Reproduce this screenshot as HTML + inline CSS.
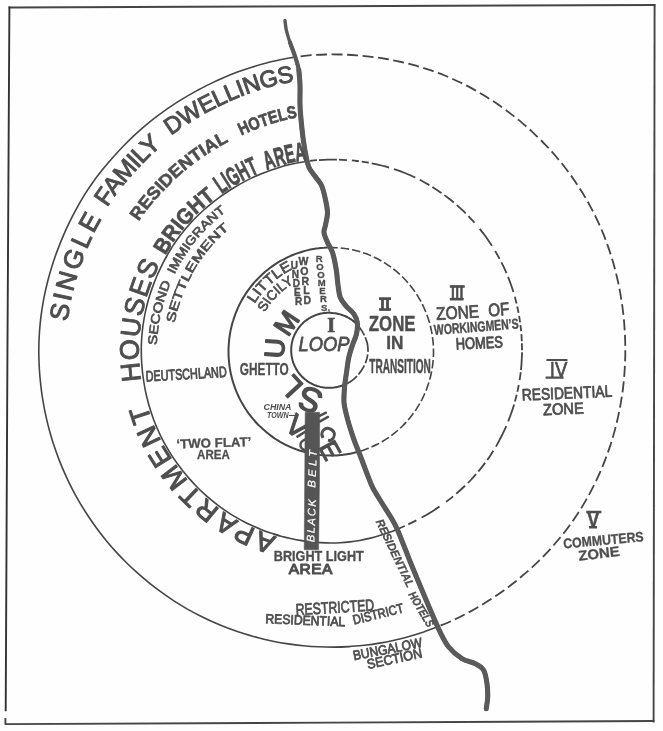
<!DOCTYPE html>
<html lang="en"><head><meta charset="utf-8"><title>Concentric zone model of urban areas</title>
<style>
html,body{margin:0;padding:0;background:#fefefe;}
svg{display:block;font-family:"Liberation Sans",sans-serif;filter:opacity(0.999);}
</style></head>
<body>
<svg width="663" height="731" viewBox="0 0 663 731">
<rect width="663" height="731" fill="#fefefe"/>
<defs>
<path id="p1" d="M65.8 350.1C65.8 348.6 65.9 344.0 66.0 340.9C66.1 337.8 66.3 334.7 66.5 331.7C66.8 328.6 67.1 325.5 67.4 322.5C67.8 319.4 68.2 316.4 68.6 313.3C69.1 310.3 69.6 307.2 70.2 304.2C70.8 301.2 71.4 298.2 72.1 295.2C72.8 292.2 73.5 289.2 74.3 286.3C75.1 283.3 75.9 280.3 76.8 277.4C77.7 274.5 78.6 271.5 79.6 268.6C80.5 265.7 81.6 262.8 82.6 260.0C83.7 257.1 84.8 254.3 86.0 251.4C87.1 248.6 88.3 245.8 89.6 243.0C90.8 240.2 92.1 237.4 93.4 234.7C94.8 231.9 96.1 229.2 97.5 226.5C99.0 223.8 100.4 221.1 101.9 218.5C103.4 215.8 104.9 213.2 106.5 210.6C108.1 208.0 109.8 205.4 111.5 202.9C113.2 200.4 115.8 196.7 116.7 195.4"/>
<path id="p2" d="M93.6 232.1C94.3 230.8 96.4 226.6 97.8 223.8C99.3 221.1 100.8 218.3 102.3 215.6C103.9 213.0 105.5 210.3 107.1 207.7C108.8 205.0 110.5 202.4 112.3 199.9C114.1 197.3 115.9 194.8 117.8 192.4C119.6 189.9 121.6 187.5 123.5 185.1C125.5 182.7 127.5 180.3 129.5 178.0C131.5 175.6 133.6 173.3 135.7 171.0C137.8 168.8 139.9 166.5 142.0 164.3C144.2 162.1 146.3 159.9 148.5 157.7C150.7 155.6 153.0 153.4 155.3 151.4C157.5 149.3 159.9 147.3 162.2 145.3C164.6 143.3 167.0 141.4 169.4 139.5C171.8 137.6 174.3 135.7 176.8 133.9C179.3 132.1 183.1 129.5 184.3 128.6"/>
<path id="p3" d="M149.7 153.8C150.8 152.8 154.2 149.6 156.5 147.6C158.8 145.6 161.1 143.6 163.5 141.7C165.8 139.7 168.2 137.8 170.6 136.0C173.1 134.1 175.5 132.3 178.0 130.6C180.5 128.8 183.0 127.1 185.6 125.4C188.1 123.7 190.7 122.1 193.3 120.5C195.8 118.9 198.5 117.3 201.1 115.8C203.7 114.3 206.4 112.8 209.1 111.3C211.8 109.9 214.5 108.5 217.2 107.1C219.9 105.8 222.6 104.5 225.4 103.2C228.2 101.9 230.9 100.6 233.7 99.5C236.5 98.3 239.4 97.1 242.2 96.0C245.0 94.9 247.9 93.8 250.8 92.8C253.6 91.8 256.5 90.8 259.4 89.9C262.3 89.0 265.3 88.1 268.2 87.3C271.2 86.5 274.1 85.7 277.1 85.0C280.1 84.3 283.0 83.6 286.0 83.0C289.0 82.4 292.0 81.9 295.1 81.4C298.1 80.9 301.1 80.5 304.1 80.1C307.2 79.7 310.2 79.4 313.3 79.2C316.3 78.9 320.9 78.7 322.4 78.6"/>
<path id="p4" d="M126.3 242.7C126.9 241.6 128.7 238.1 130.0 235.8C131.3 233.5 132.6 231.3 133.9 229.0C135.2 226.8 136.6 224.6 138.1 222.4C139.5 220.3 141.0 218.1 142.5 216.0C144.1 213.9 145.7 211.8 147.3 209.8C148.9 207.8 150.5 205.7 152.2 203.8C153.8 201.8 155.5 199.8 157.2 197.9C159.0 195.9 160.7 194.0 162.5 192.1C164.2 190.2 166.0 188.4 167.8 186.5C169.6 184.7 171.4 182.8 173.3 181.0C175.2 179.3 177.0 177.5 179.0 175.8C180.9 174.1 182.8 172.4 184.8 170.7C186.8 169.1 188.8 167.5 190.8 165.9C192.9 164.3 194.9 162.7 197.0 161.2C199.1 159.7 201.2 158.2 203.3 156.8C205.5 155.4 207.6 154.0 209.8 152.6C212.0 151.2 214.2 149.9 216.4 148.6C218.6 147.2 220.8 146.0 223.1 144.7C225.3 143.5 227.6 142.3 229.8 141.1C232.1 139.9 234.4 138.7 236.7 137.6C239.0 136.5 241.4 135.4 243.7 134.4C246.1 133.3 249.6 131.8 250.8 131.3"/>
<path id="p5" d="M219.7 146.6C220.9 146.0 224.2 144.1 226.5 142.9C228.7 141.7 231.0 140.5 233.3 139.3C235.6 138.2 237.9 137.1 240.2 136.0C242.5 134.9 244.8 133.9 247.2 132.8C249.5 131.8 251.9 130.8 254.3 129.9C256.7 129.0 259.1 128.1 261.5 127.2C263.9 126.3 266.3 125.5 268.8 124.7C271.2 123.9 273.7 123.1 276.1 122.4C278.6 121.7 281.1 121.1 283.6 120.4C286.1 119.8 288.6 119.2 291.1 118.7C293.6 118.2 296.1 117.7 298.7 117.3C301.2 116.8 303.7 116.4 306.3 116.1C308.8 115.8 311.4 115.5 314.0 115.2C316.5 115.0 320.4 114.8 321.7 114.7"/>
<path id="p6" d="M156.3 273.5C156.8 272.5 158.1 269.5 159.1 267.5C160.0 265.5 161.0 263.6 162.0 261.7C163.0 259.7 164.0 257.8 165.1 255.9C166.2 254.0 167.2 252.1 168.4 250.2C169.5 248.4 170.7 246.5 171.9 244.7C173.1 242.9 174.3 241.1 175.6 239.3C176.8 237.5 178.1 235.8 179.4 234.0C180.8 232.3 182.1 230.6 183.5 228.9C184.9 227.3 186.3 225.6 187.8 224.0C189.2 222.4 190.7 220.8 192.2 219.2C193.7 217.6 195.2 216.1 196.8 214.6C198.3 213.0 199.9 211.5 201.5 210.1C203.1 208.6 204.7 207.2 206.4 205.8C208.0 204.4 209.7 203.0 211.4 201.6C213.1 200.3 214.8 198.9 216.5 197.6C218.2 196.3 220.0 195.1 221.8 193.8C223.5 192.6 225.3 191.4 227.1 190.2C228.9 189.0 231.7 187.3 232.6 186.7"/>
<path id="p7" d="M205.7 206.3C206.6 205.6 209.0 203.5 210.7 202.2C212.3 200.8 214.0 199.5 215.7 198.2C217.5 196.9 219.2 195.7 220.9 194.4C222.7 193.2 224.4 192.0 226.2 190.8C228.0 189.6 229.8 188.4 231.6 187.3C233.5 186.2 235.3 185.1 237.1 184.0C239.0 182.9 240.9 181.9 242.7 180.9C244.6 179.9 246.5 178.9 248.5 177.9C250.4 177.0 252.3 176.1 254.2 175.2C256.2 174.3 258.2 173.4 260.1 172.6C262.1 171.8 264.1 171.0 266.1 170.2C268.1 169.5 270.1 168.8 272.1 168.1C274.2 167.4 277.2 166.4 278.2 166.1"/>
<path id="p8" d="M248.6 177.9C249.6 177.4 252.4 176.0 254.2 175.2C256.1 174.3 258.0 173.5 260.0 172.7C261.9 171.9 263.8 171.1 265.8 170.4C267.7 169.6 269.7 168.9 271.6 168.3C273.6 167.6 275.6 166.9 277.6 166.3C279.5 165.7 281.5 165.1 283.6 164.6C285.6 164.0 287.6 163.5 289.6 163.0C291.6 162.6 293.7 162.1 295.7 161.7C297.7 161.3 299.8 160.9 301.8 160.6C303.9 160.2 305.9 159.9 308.0 159.6C310.1 159.4 312.1 159.1 314.2 158.9C316.3 158.7 318.4 158.6 320.4 158.4C322.5 158.3 325.6 158.2 326.7 158.1"/>
<path id="p9" d="M145.4 401.0C145.1 399.9 144.3 396.7 143.8 394.5C143.3 392.3 142.9 390.1 142.5 387.9C142.1 385.7 141.7 383.5 141.4 381.3C141.0 379.0 140.7 376.8 140.5 374.6C140.2 372.4 140.0 370.1 139.8 367.9C139.6 365.7 139.4 363.4 139.3 361.2C139.2 358.9 139.1 356.7 139.0 354.5C139.0 352.2 139.0 350.0 139.0 347.7C139.0 345.5 139.1 343.3 139.2 341.0C139.3 338.8 139.5 336.5 139.7 334.3C139.9 332.1 140.1 329.8 140.4 327.6C140.7 325.4 141.0 323.2 141.3 321.0C141.7 318.8 142.1 316.6 142.5 314.4C143.0 312.2 143.4 310.0 144.0 307.8C144.5 305.6 145.0 303.5 145.6 301.3C146.2 299.1 146.8 297.0 147.5 294.9C148.1 292.7 148.8 290.6 149.6 288.5C150.3 286.4 151.1 284.3 151.9 282.2C152.7 280.1 153.5 278.0 154.4 276.0C155.2 273.9 156.1 271.9 157.1 269.9C158.0 267.8 159.0 265.8 160.0 263.8C161.0 261.8 162.0 259.9 163.1 257.9C164.1 256.0 165.2 254.0 166.3 252.1C167.5 250.2 169.2 247.3 169.8 246.4"/>
<path id="p10" d="M296.4 541.5C295.3 541.3 292.0 540.7 289.9 540.2C287.7 539.7 285.5 539.2 283.4 538.6C281.2 538.1 279.1 537.5 276.9 536.9C274.8 536.2 272.7 535.6 270.6 534.9C268.5 534.2 266.4 533.4 264.3 532.6C262.2 531.9 260.1 531.1 258.1 530.2C256.0 529.3 254.0 528.5 251.9 527.5C249.9 526.6 247.9 525.7 245.9 524.7C243.9 523.7 241.9 522.6 240.0 521.6C238.0 520.5 236.1 519.4 234.1 518.3C232.2 517.2 230.3 516.0 228.5 514.8C226.6 513.6 224.7 512.4 222.9 511.1C221.0 509.8 219.2 508.5 217.5 507.2C215.7 505.9 213.9 504.5 212.2 503.1C210.4 501.7 208.7 500.3 207.0 498.8C205.3 497.4 203.7 495.9 202.0 494.4C200.4 492.8 198.8 491.3 197.2 489.7C195.6 488.2 194.1 486.6 192.5 484.9C191.0 483.3 189.5 481.7 188.0 480.0C186.6 478.3 185.1 476.6 183.7 474.9C182.3 473.2 180.9 471.4 179.6 469.6C178.2 467.9 176.9 466.1 175.6 464.3C174.3 462.4 173.0 460.6 171.8 458.8C170.6 456.9 169.4 455.0 168.2 453.1C167.0 451.2 165.9 449.3 164.8 447.4C163.6 445.4 162.6 443.5 161.5 441.5C160.5 439.5 159.5 437.5 158.5 435.5C157.6 433.5 156.6 431.5 155.7 429.5C154.8 427.4 154.0 425.4 153.2 423.3C152.3 421.2 151.6 419.1 150.8 417.0C150.1 414.9 149.4 412.8 148.7 410.7C148.0 408.5 147.4 406.4 146.8 404.3C146.2 402.1 145.6 399.9 145.1 397.8C144.6 395.6 144.1 393.4 143.7 391.3C143.2 389.1 142.6 385.8 142.4 384.7"/>
<path id="p11" d="M157.3 363.5C157.2 362.5 157.0 359.6 156.9 357.6C156.9 355.6 156.8 353.6 156.8 351.6C156.8 349.6 156.8 347.6 156.9 345.6C156.9 343.6 157.0 341.6 157.1 339.6C157.3 337.7 157.4 335.7 157.6 333.7C157.8 331.7 158.1 329.7 158.3 327.8C158.6 325.8 158.9 323.8 159.2 321.8C159.6 319.9 160.0 317.9 160.4 316.0C160.8 314.0 161.2 312.1 161.7 310.2C162.2 308.2 162.7 306.3 163.2 304.4C163.8 302.5 164.3 300.6 164.9 298.7C165.5 296.8 166.2 294.9 166.8 293.0C167.5 291.2 168.2 289.3 168.9 287.5C169.6 285.6 170.4 283.8 171.2 282.0C172.0 280.1 172.8 278.3 173.6 276.5C174.4 274.8 175.3 273.0 176.2 271.2C177.1 269.4 178.5 266.8 179.0 265.9"/>
<path id="p12" d="M167.4 291.6C167.7 290.7 168.8 287.9 169.5 286.0C170.2 284.2 171.0 282.3 171.8 280.5C172.6 278.7 173.4 276.9 174.3 275.1C175.1 273.3 176.0 271.5 176.9 269.8C177.8 268.0 178.8 266.3 179.7 264.5C180.7 262.8 181.7 261.1 182.7 259.4C183.7 257.7 184.8 256.0 185.9 254.3C187.0 252.7 188.1 251.0 189.2 249.4C190.4 247.8 191.5 246.2 192.7 244.6C193.9 243.1 195.2 241.5 196.4 240.0C197.7 238.5 199.0 237.0 200.3 235.5C201.6 234.0 202.9 232.5 204.3 231.1C205.7 229.7 207.0 228.3 208.5 226.9C209.9 225.5 211.3 224.2 212.7 222.8C214.2 221.5 215.7 220.2 217.2 218.9C218.7 217.6 220.2 216.4 221.7 215.1C223.3 213.9 224.8 212.7 226.4 211.5C228.0 210.3 229.5 209.2 231.1 208.0C232.8 206.9 234.4 205.8 236.0 204.7C237.7 203.6 240.2 202.1 241.0 201.5"/>
<path id="p13" d="M172.6 339.9C172.7 339.0 172.9 336.2 173.1 334.3C173.3 332.4 173.6 330.6 173.8 328.7C174.1 326.9 174.4 325.1 174.7 323.2C175.1 321.4 175.4 319.5 175.8 317.7C176.2 315.9 176.7 314.1 177.1 312.3C177.6 310.5 178.1 308.7 178.6 306.9C179.2 305.1 179.7 303.3 180.3 301.6C180.9 299.8 181.5 298.0 182.1 296.3C182.8 294.5 183.5 292.8 184.2 291.1C184.9 289.4 185.6 287.7 186.3 286.0C187.1 284.3 187.9 282.6 188.7 280.9C189.5 279.2 190.3 277.6 191.2 275.9C192.1 274.3 192.9 272.7 193.9 271.0C194.8 269.4 195.7 267.8 196.7 266.2C197.6 264.7 198.6 263.1 199.7 261.6C200.7 260.0 201.8 258.5 202.9 257.0C203.9 255.5 205.1 254.0 206.2 252.6C207.3 251.1 208.5 249.7 209.7 248.3C210.9 246.8 212.1 245.5 213.4 244.1C214.6 242.7 215.9 241.4 217.2 240.1C218.5 238.8 219.8 237.5 221.1 236.2C222.5 234.9 223.8 233.7 225.2 232.4C226.6 231.2 228.0 230.0 229.4 228.8C230.8 227.7 232.3 226.5 233.7 225.4C235.2 224.3 236.6 223.2 238.1 222.1C239.6 221.0 241.9 219.4 242.6 218.9"/>
<path id="p14" d="M250.2 312.3C250.4 311.9 251.1 310.5 251.6 309.5C252.1 308.6 252.5 307.7 253.0 306.8C253.5 305.9 254.1 305.0 254.6 304.1C255.1 303.2 255.7 302.4 256.2 301.5C256.8 300.6 257.4 299.8 257.9 298.9C258.5 298.1 259.1 297.3 259.7 296.4C260.4 295.6 261.0 294.8 261.6 294.0C262.3 293.2 262.9 292.4 263.6 291.6C264.3 290.8 265.0 290.1 265.7 289.3C266.4 288.6 267.1 287.8 267.8 287.1C268.5 286.3 269.2 285.6 270.0 284.9C270.7 284.2 271.5 283.5 272.3 282.8C273.0 282.2 273.8 281.5 274.6 280.8C275.4 280.2 276.2 279.6 277.0 278.9C277.8 278.3 278.6 277.7 279.5 277.1C280.3 276.5 281.1 275.9 282.0 275.4C282.9 274.8 283.7 274.2 284.6 273.7C285.5 273.2 286.3 272.6 287.2 272.1C288.1 271.6 289.0 271.1 289.9 270.7C290.8 270.2 291.7 269.7 292.7 269.3C293.6 268.8 294.5 268.4 295.4 268.0C296.4 267.6 297.3 267.2 298.3 266.8C299.2 266.4 300.6 265.9 301.1 265.7"/>
<path id="p15" d="M261.1 319.8C261.3 319.4 261.8 318.2 262.2 317.4C262.6 316.6 263.0 315.8 263.4 315.0C263.8 314.2 264.2 313.4 264.7 312.7C265.1 311.9 265.5 311.1 266.0 310.4C266.5 309.6 266.9 308.9 267.4 308.1C267.9 307.4 268.4 306.7 268.9 306.0C269.4 305.2 269.9 304.5 270.5 303.8C271.0 303.1 271.5 302.4 272.1 301.7C272.6 301.1 273.2 300.4 273.8 299.7C274.4 299.1 275.0 298.4 275.6 297.8C276.1 297.1 276.8 296.5 277.4 295.9C278.0 295.2 278.6 294.6 279.3 294.0C279.9 293.4 280.6 292.8 281.2 292.3C281.9 291.7 282.6 291.1 283.2 290.6C283.9 290.0 284.6 289.5 285.3 288.9C286.0 288.4 286.7 287.9 287.4 287.4C288.1 286.9 288.9 286.4 289.6 285.9C290.3 285.4 291.1 285.0 291.8 284.5C292.6 284.1 293.3 283.6 294.1 283.2C294.8 282.8 295.6 282.3 296.4 281.9C297.2 281.5 297.9 281.2 298.7 280.8C299.5 280.4 300.7 279.9 301.1 279.7"/>
</defs>
<path d="M8.6 7.5L330 6.3L655.4 4.9" fill="none" stroke="#454545" stroke-width="2.0" stroke-linecap="butt" stroke-linejoin="round"/>
<path d="M9.4 6.6L7.4 360L5.7 711.2" fill="none" stroke="#333" stroke-width="1.9" stroke-linecap="butt" stroke-linejoin="round"/>
<path d="M654.6 4.2L653.6 722.6" fill="none" stroke="#454545" stroke-width="1.9" stroke-linecap="butt" stroke-linejoin="round"/>
<path d="M5.4 718V724.1L330 722.6L654.4 721" fill="none" stroke="#454545" stroke-width="1.9" stroke-linecap="butt" stroke-linejoin="round"/>
<path d="M438.0 626.7C435.6 627.6 428.5 630.3 423.7 632.0C418.8 633.6 414.0 635.1 409.1 636.5C404.2 637.8 399.2 639.1 394.3 640.2C389.3 641.3 384.3 642.3 379.3 643.1C374.3 644.0 369.2 644.7 364.2 645.3C359.1 645.8 354.0 646.3 349.0 646.6C343.9 646.9 338.8 647.1 333.7 647.1C328.6 647.1 323.5 647.0 318.5 646.8C313.4 646.6 308.3 646.2 303.2 645.7C298.2 645.2 293.1 644.6 288.1 643.9C283.1 643.1 278.0 642.2 273.0 641.2C268.1 640.2 263.1 639.1 258.2 637.8C253.2 636.5 248.3 635.1 243.5 633.6C238.6 632.1 233.8 630.4 229.0 628.6C224.2 626.8 219.5 624.9 214.8 622.8C210.1 620.8 205.5 618.6 200.9 616.3C196.4 614.0 191.9 611.6 187.4 609.1C183.0 606.5 178.6 603.8 174.3 601.1C170.0 598.3 165.8 595.4 161.7 592.4C157.5 589.4 153.4 586.3 149.4 583.1C145.4 579.9 141.5 576.6 137.7 573.2C133.9 569.8 130.1 566.3 126.5 562.7C122.8 559.1 119.3 555.4 115.8 551.6C112.3 547.8 109.0 543.9 105.7 539.9C102.5 535.9 99.3 531.9 96.3 527.7C93.2 523.6 90.3 519.3 87.5 515.0C84.6 510.7 81.9 506.3 79.3 501.9C76.7 497.4 74.2 492.9 71.9 488.3C69.5 483.8 67.3 479.1 65.2 474.4C63.1 469.7 61.1 464.9 59.2 460.1C57.3 455.3 55.6 450.5 54.0 445.6C52.3 440.7 50.9 435.7 49.5 430.7C48.1 425.8 46.9 420.7 45.8 415.7C44.7 410.7 43.7 405.6 42.9 400.5C42.0 395.4 41.3 390.3 40.8 385.1C40.2 380.0 39.7 374.9 39.4 369.7C39.1 364.6 38.9 359.4 38.8 354.2C38.8 349.1 38.8 343.9 39.1 338.7C39.3 333.6 39.7 328.4 40.2 323.3C40.7 318.1 41.4 313.0 42.2 307.9C43.0 302.8 43.9 297.8 45.0 292.7C46.1 287.7 47.3 282.7 48.6 277.7C50.0 272.7 51.4 267.8 53.0 262.9C54.6 258.0 56.3 253.2 58.2 248.4C60.0 243.6 61.9 238.8 64.0 234.1C66.0 229.5 68.2 224.8 70.5 220.2C72.7 215.6 75.1 211.1 77.6 206.6C80.1 202.1 82.7 197.7 85.4 193.4C88.1 189.1 91.0 184.9 94.0 180.7C97.0 176.6 100.2 172.6 103.4 168.6C106.6 164.7 109.9 160.8 113.3 157.0C116.7 153.2 120.1 149.5 123.7 145.8C127.2 142.2 130.8 138.6 134.5 135.1C138.2 131.7 142.0 128.3 145.9 125.1C149.8 121.8 153.8 118.6 157.8 115.6C161.9 112.6 166.0 109.6 170.2 106.8C174.4 104.0 178.6 101.2 183.0 98.6C187.3 96.0 191.7 93.5 196.1 91.1C200.6 88.7 205.0 86.3 209.6 84.1C214.1 81.9 218.7 79.8 223.4 77.8C228.0 75.8 232.7 73.9 237.4 72.1C242.2 70.3 247.0 68.7 251.8 67.2C256.6 65.6 261.5 64.2 266.4 62.9C271.3 61.7 276.3 60.5 281.2 59.5C286.2 58.5 293.7 57.4 296.2 56.9" fill="none" stroke="#454545" stroke-width="1.6"/>
<path d="M296.2 56.9C298.7 56.6 306.2 55.7 311.2 55.2C316.2 54.8 321.3 54.6 326.3 54.5C331.3 54.3 336.3 54.4 341.4 54.5C346.4 54.7 351.4 54.9 356.4 55.3C361.5 55.7 366.5 56.2 371.5 56.8C376.5 57.4 381.5 58.2 386.4 59.0C391.4 59.9 396.3 60.9 401.3 62.0C406.2 63.1 411.1 64.4 416.0 65.7C420.8 67.1 425.7 68.6 430.5 70.2C435.2 71.9 440.0 73.6 444.7 75.5C449.4 77.4 454.0 79.5 458.6 81.7C463.2 83.8 467.7 86.1 472.2 88.6C476.7 91.0 481.1 93.6 485.4 96.2C489.7 98.9 494.0 101.7 498.1 104.6C502.3 107.5 506.5 110.5 510.5 113.6C514.5 116.6 518.5 119.8 522.4 123.1C526.3 126.4 530.1 129.8 533.8 133.3C537.5 136.8 541.2 140.4 544.7 144.1C548.3 147.8 551.7 151.5 555.1 155.4C558.4 159.3 561.7 163.2 564.8 167.3C567.9 171.3 571.0 175.5 573.9 179.7C576.8 183.9 579.6 188.2 582.3 192.5C585.0 196.9 587.6 201.3 590.0 205.8C592.5 210.4 594.8 214.9 597.0 219.6C599.2 224.2 601.3 228.9 603.2 233.7C605.1 238.4 606.9 243.3 608.6 248.1C610.3 253.0 611.8 257.9 613.2 262.8C614.7 267.7 615.9 272.7 617.1 277.7C618.3 282.7 619.3 287.7 620.2 292.8C621.1 297.8 621.9 302.9 622.6 308.0C623.2 313.0 623.8 318.1 624.2 323.2C624.6 328.4 624.9 333.5 625.1 338.6C625.3 343.7 625.3 348.8 625.3 353.9C625.2 359.1 625.0 364.2 624.7 369.3C624.4 374.4 624.0 379.5 623.4 384.6C622.9 389.7 622.2 394.8 621.3 399.8C620.5 404.9 619.6 409.9 618.5 414.9C617.4 419.9 616.2 424.9 614.9 429.9C613.6 434.8 612.1 439.7 610.6 444.6C609.0 449.4 607.3 454.3 605.4 459.1C603.6 463.8 601.7 468.6 599.6 473.3C597.5 477.9 595.3 482.6 593.0 487.1C590.7 491.7 588.3 496.2 585.7 500.6C583.2 505.0 580.5 509.4 577.7 513.7C574.9 517.9 572.0 522.1 569.0 526.2C566.0 530.4 562.8 534.4 559.6 538.3C556.3 542.2 553.0 546.1 549.6 549.8C546.1 553.6 542.6 557.2 538.9 560.8C535.3 564.3 531.6 567.8 527.8 571.2C524.0 574.5 520.1 577.8 516.2 581.0C512.2 584.1 508.2 587.2 504.1 590.2C500.0 593.1 495.8 596.0 491.6 598.8C487.4 601.5 483.1 604.2 478.7 606.7C474.4 609.3 470.0 611.8 465.5 614.1C461.0 616.4 456.5 618.7 451.9 620.8C447.3 622.9 440.3 625.7 438.0 626.7" fill="none" stroke="#454545" stroke-width="1.8" stroke-dasharray="11 4.5" stroke-dashoffset="11"/>
<path d="M397.5 529.2C396.0 529.8 391.4 531.6 388.3 532.7C385.2 533.9 382.1 534.9 378.9 535.8C375.8 536.8 372.6 537.7 369.4 538.4C366.2 539.2 362.9 539.9 359.7 540.5C356.5 541.1 353.2 541.6 349.9 541.9C346.6 542.3 343.3 542.6 340.0 542.8C336.7 543.0 333.4 543.0 330.1 543.0C326.8 543.0 323.5 542.8 320.2 542.6C316.9 542.4 313.6 542.1 310.3 541.8C307.0 541.4 303.7 541.0 300.4 540.4C297.2 539.9 293.9 539.2 290.7 538.5C287.4 537.8 284.2 537.0 281.0 536.2C277.8 535.3 274.7 534.3 271.5 533.3C268.4 532.2 265.2 531.1 262.2 529.9C259.1 528.7 256.0 527.4 253.0 526.0C250.0 524.7 247.0 523.2 244.0 521.7C241.1 520.2 238.2 518.6 235.3 516.9C232.5 515.2 229.6 513.5 226.9 511.6C224.1 509.8 221.4 507.9 218.7 505.9C216.1 503.9 213.5 501.9 210.9 499.7C208.3 497.6 205.8 495.4 203.4 493.2C201.0 490.9 198.6 488.6 196.3 486.2C194.0 483.8 191.7 481.4 189.5 478.9C187.3 476.4 185.2 473.9 183.1 471.3C181.1 468.7 179.1 466.0 177.1 463.3C175.2 460.6 173.3 457.9 171.5 455.1C169.7 452.3 168.0 449.4 166.4 446.6C164.7 443.7 163.1 440.8 161.6 437.8C160.1 434.8 158.7 431.8 157.4 428.8C156.1 425.7 154.8 422.6 153.6 419.5C152.5 416.4 151.4 413.3 150.4 410.1C149.4 407.0 148.5 403.8 147.7 400.5C146.8 397.3 146.1 394.1 145.4 390.8C144.7 387.6 144.2 384.3 143.7 381.0C143.2 377.8 142.7 374.5 142.4 371.2C142.0 367.9 141.8 364.6 141.6 361.3C141.4 358.0 141.3 354.6 141.3 351.3C141.3 348.0 141.3 344.7 141.5 341.4C141.7 338.1 141.9 334.8 142.3 331.5C142.6 328.2 143.0 324.9 143.6 321.6C144.1 318.4 144.7 315.1 145.4 311.9C146.1 308.6 146.9 305.4 147.7 302.2C148.6 299.0 149.5 295.9 150.6 292.7C151.6 289.6 152.7 286.5 153.9 283.4C155.1 280.3 156.3 277.2 157.6 274.2C159.0 271.2 160.4 268.2 161.8 265.3C163.3 262.3 164.8 259.4 166.5 256.5C168.1 253.7 169.7 250.8 171.5 248.0C173.3 245.3 175.1 242.5 177.0 239.8C178.9 237.2 180.9 234.5 183.0 232.0C185.0 229.4 187.1 226.9 189.3 224.5C191.5 222.0 193.8 219.6 196.1 217.3C198.4 215.0 200.8 212.7 203.2 210.5C205.7 208.3 208.1 206.2 210.7 204.1C213.2 202.1 215.8 200.0 218.4 198.1C221.0 196.2 223.7 194.3 226.4 192.5C229.1 190.6 231.9 188.9 234.7 187.2C237.5 185.5 240.3 183.9 243.2 182.4C246.1 180.8 249.0 179.3 251.9 177.9C254.9 176.5 257.9 175.2 260.9 173.9C263.9 172.7 266.9 171.5 270.0 170.4C273.1 169.3 276.2 168.3 279.3 167.4C282.4 166.4 285.6 165.6 288.7 164.8C291.9 164.0 295.1 163.3 298.3 162.7C301.5 162.1 306.4 161.4 308.0 161.2" fill="none" stroke="#454545" stroke-width="1.6"/>
<path d="M308.0 161.2C309.6 161.0 314.5 160.4 317.8 160.1C321.0 159.9 324.3 159.7 327.6 159.6C330.9 159.5 334.2 159.5 337.5 159.6C340.7 159.7 344.0 159.9 347.3 160.1C350.6 160.3 353.8 160.6 357.1 161.0C360.4 161.4 363.6 161.9 366.9 162.4C370.1 163.0 373.4 163.6 376.6 164.3C379.8 165.0 383.0 165.8 386.2 166.7C389.3 167.6 392.5 168.6 395.6 169.6C398.8 170.7 401.9 171.8 404.9 173.0C408.0 174.3 411.1 175.6 414.1 177.0C417.0 178.4 420.0 179.9 422.9 181.5C425.8 183.0 428.7 184.7 431.5 186.4C434.3 188.2 437.1 190.0 439.8 191.9C442.6 193.8 445.2 195.7 447.9 197.8C450.5 199.8 453.1 201.9 455.6 204.0C458.1 206.2 460.6 208.4 463.0 210.7C465.4 213.0 467.7 215.3 470.0 217.8C472.3 220.2 474.5 222.6 476.6 225.2C478.8 227.7 480.9 230.3 482.9 232.9C484.9 235.6 486.9 238.2 488.7 241.0C490.6 243.7 492.4 246.5 494.2 249.3C495.9 252.2 497.6 255.1 499.1 258.0C500.7 260.9 502.2 263.9 503.7 266.9C505.1 269.9 506.4 272.9 507.7 276.0C508.9 279.1 510.1 282.2 511.2 285.3C512.3 288.5 513.3 291.6 514.2 294.8C515.2 298.0 516.0 301.2 516.8 304.5C517.5 307.7 518.2 311.0 518.8 314.2C519.4 317.5 519.9 320.8 520.3 324.1C520.8 327.4 521.1 330.7 521.4 334.0C521.6 337.3 521.8 340.6 521.9 343.9C522.0 347.3 522.0 350.6 522.0 353.9C521.9 357.2 521.7 360.5 521.5 363.9C521.3 367.2 520.9 370.5 520.5 373.8C520.1 377.1 519.6 380.3 519.0 383.6C518.4 386.9 517.8 390.1 517.0 393.4C516.3 396.6 515.4 399.8 514.5 403.0C513.6 406.2 512.6 409.4 511.5 412.5C510.4 415.6 509.3 418.7 508.0 421.8C506.8 424.9 505.5 427.9 504.1 430.9C502.7 433.9 501.2 436.9 499.6 439.8C498.1 442.8 496.5 445.7 494.8 448.5C493.1 451.3 491.3 454.1 489.4 456.9C487.6 459.6 485.6 462.3 483.6 464.9C481.6 467.6 479.5 470.1 477.4 472.7C475.2 475.2 473.0 477.6 470.8 480.0C468.5 482.4 466.1 484.7 463.7 487.0C461.3 489.3 458.9 491.5 456.4 493.6C453.9 495.8 451.3 497.9 448.7 499.9C446.1 501.9 443.5 503.8 440.8 505.7C438.1 507.6 435.3 509.4 432.5 511.2C429.8 512.9 426.9 514.6 424.1 516.2C421.2 517.8 418.3 519.4 415.4 520.9C412.5 522.4 409.5 523.8 406.5 525.2C403.6 526.6 399.0 528.5 397.5 529.2" fill="none" stroke="#454545" stroke-width="1.8" stroke-dasharray="7 2 7 2 18 2 8 5 7 3 7 3 18 5 23 5 11 3.5 11 3.5 12 4 12 4 9 8 21 6 9 4 12 4 16 5 7 3 6.5 3 6.5 3 6 3" stroke-dashoffset="7"/>
<path d="M357.5 452.0C356.7 452.2 354.1 452.8 352.3 453.2C350.6 453.6 348.8 453.9 347.1 454.2C345.3 454.5 343.6 454.7 341.8 454.9C340.0 455.1 338.3 455.3 336.5 455.4C334.7 455.4 332.9 455.5 331.1 455.5C329.4 455.5 327.6 455.5 325.8 455.4C324.0 455.3 322.2 455.1 320.5 455.0C318.7 454.8 316.9 454.5 315.2 454.3C313.4 454.0 311.7 453.7 309.9 453.3C308.2 452.9 306.5 452.5 304.7 452.0C303.0 451.6 301.3 451.1 299.6 450.5C297.9 450.0 296.2 449.4 294.6 448.7C292.9 448.1 291.3 447.4 289.6 446.7C288.0 445.9 286.4 445.2 284.8 444.3C283.2 443.5 281.7 442.7 280.1 441.8C278.6 440.9 277.0 439.9 275.5 439.0C274.0 438.0 272.6 437.0 271.1 435.9C269.7 434.9 268.3 433.8 266.9 432.6C265.5 431.5 264.1 430.3 262.8 429.1C261.5 427.9 260.2 426.7 258.9 425.4C257.6 424.2 256.4 422.9 255.2 421.5C254.0 420.2 252.9 418.8 251.7 417.4C250.6 416.0 249.5 414.6 248.4 413.1C247.4 411.7 246.4 410.2 245.4 408.7C244.4 407.2 243.5 405.7 242.6 404.1C241.7 402.5 240.8 401.0 240.0 399.4C239.2 397.8 238.4 396.1 237.7 394.5C236.9 392.8 236.2 391.2 235.6 389.5C234.9 387.8 234.3 386.1 233.8 384.4C233.2 382.7 232.7 381.0 232.2 379.2C231.7 377.5 231.3 375.7 230.9 374.0C230.5 372.2 230.2 370.4 229.9 368.7C229.6 366.9 229.4 365.1 229.2 363.3C229.0 361.5 228.8 359.7 228.7 357.9C228.6 356.1 228.5 354.3 228.5 352.5C228.5 350.7 228.5 348.9 228.6 347.1C228.7 345.3 228.8 343.5 229.0 341.7C229.1 339.9 229.3 338.1 229.6 336.3C229.9 334.5 230.2 332.7 230.5 330.9C230.9 329.2 231.3 327.4 231.7 325.7C232.2 323.9 232.6 322.2 233.2 320.5C233.7 318.7 234.3 317.0 234.9 315.3C235.5 313.6 236.2 312.0 236.9 310.3C237.6 308.6 238.3 307.0 239.1 305.4C239.9 303.8 240.7 302.2 241.6 300.6C242.5 299.0 243.4 297.5 244.4 295.9C245.3 294.4 246.3 292.9 247.3 291.4C248.3 290.0 249.4 288.5 250.5 287.1C251.6 285.7 252.8 284.3 253.9 282.9C255.1 281.6 256.3 280.2 257.6 279.0C258.8 277.7 260.1 276.4 261.4 275.2C262.7 273.9 264.0 272.8 265.4 271.6C266.8 270.4 268.2 269.3 269.6 268.2C271.0 267.2 272.5 266.1 273.9 265.1C275.4 264.1 276.9 263.1 278.4 262.2C280.0 261.3 281.5 260.4 283.1 259.6C284.7 258.7 286.3 257.9 287.9 257.1C289.5 256.4 291.1 255.7 292.8 255.0C294.4 254.3 296.1 253.7 297.8 253.1C299.5 252.5 301.2 252.0 302.9 251.5C304.6 251.0 306.3 250.5 308.0 250.1C309.8 249.7 311.5 249.4 313.3 249.1C315.0 248.8 316.8 248.5 318.6 248.3C320.3 248.0 322.1 247.9 323.9 247.8C325.7 247.6 328.3 247.6 329.2 247.5" fill="none" stroke="#454545" stroke-width="2.0"/>
<path d="M329.2 247.5C330.1 247.5 332.7 247.5 334.5 247.6C336.3 247.6 338.0 247.7 339.8 247.9C341.6 248.0 343.3 248.2 345.1 248.5C346.8 248.7 348.6 249.0 350.3 249.4C352.0 249.7 353.8 250.1 355.5 250.5C357.2 250.9 358.9 251.4 360.6 251.9C362.3 252.4 364.0 253.0 365.6 253.6C367.3 254.2 368.9 254.9 370.6 255.6C372.2 256.3 373.8 257.0 375.4 257.8C377.0 258.5 378.6 259.4 380.1 260.2C381.7 261.1 383.2 262.0 384.7 262.9C386.2 263.9 387.7 264.8 389.2 265.9C390.6 266.9 392.0 267.9 393.4 269.0C394.8 270.1 396.2 271.3 397.6 272.4C398.9 273.6 400.2 274.8 401.5 276.0C402.8 277.2 404.0 278.5 405.3 279.8C406.5 281.1 407.7 282.4 408.8 283.8C410.0 285.2 411.1 286.6 412.2 288.0C413.2 289.4 414.3 290.9 415.3 292.3C416.3 293.8 417.3 295.3 418.2 296.8C419.1 298.4 420.0 299.9 420.9 301.5C421.7 303.0 422.5 304.6 423.3 306.3C424.1 307.9 424.8 309.5 425.5 311.2C426.2 312.8 426.8 314.5 427.4 316.2C428.0 317.9 428.6 319.6 429.1 321.3C429.6 323.0 430.1 324.7 430.5 326.5C430.9 328.2 431.3 330.0 431.6 331.7C432.0 333.5 432.3 335.3 432.5 337.0C432.7 338.8 432.9 340.6 433.1 342.4C433.3 344.2 433.4 345.9 433.4 347.7C433.5 349.5 433.5 351.3 433.5 353.1C433.5 354.9 433.4 356.7 433.3 358.5C433.1 360.3 433.0 362.1 432.8 363.9C432.6 365.6 432.3 367.4 432.0 369.2C431.7 370.9 431.4 372.7 431.0 374.5C430.6 376.2 430.1 377.9 429.7 379.7C429.2 381.4 428.7 383.1 428.1 384.8C427.5 386.5 426.9 388.2 426.3 389.9C425.6 391.5 424.9 393.2 424.2 394.8C423.5 396.4 422.7 398.0 421.9 399.6C421.0 401.2 420.2 402.8 419.3 404.3C418.4 405.9 417.4 407.4 416.5 408.9C415.5 410.4 414.5 411.9 413.4 413.3C412.4 414.8 411.3 416.2 410.2 417.6C409.1 418.9 407.9 420.3 406.7 421.6C405.5 422.9 404.3 424.2 403.0 425.5C401.8 426.8 400.5 428.0 399.2 429.2C397.8 430.4 396.5 431.5 395.1 432.6C393.7 433.8 392.3 434.9 390.9 435.9C389.5 437.0 388.0 438.0 386.5 438.9C385.0 439.9 383.5 440.8 382.0 441.7C380.4 442.6 378.9 443.5 377.3 444.3C375.7 445.1 374.1 445.9 372.5 446.6C370.9 447.3 369.3 448.0 367.6 448.6C366.0 449.3 364.3 449.9 362.6 450.4C360.9 451.0 358.4 451.7 357.5 452.0" fill="none" stroke="#454545" stroke-width="1.6" stroke-dasharray="8.5 3" stroke-dashoffset="0"/>
<path d="M343.7 385.1C343.4 385.2 342.4 385.5 341.8 385.7C341.2 385.9 340.6 386.1 339.9 386.3C339.3 386.5 338.7 386.6 338.0 386.8C337.4 386.9 336.7 387.1 336.1 387.2C335.4 387.3 334.8 387.4 334.1 387.5C333.5 387.5 332.8 387.6 332.2 387.7C331.5 387.7 330.9 387.7 330.2 387.8C329.6 387.8 328.9 387.8 328.3 387.8C327.6 387.8 327.0 387.8 326.3 387.7C325.7 387.7 325.0 387.6 324.4 387.6C323.7 387.5 323.1 387.4 322.4 387.3C321.8 387.2 321.2 387.0 320.5 386.9C319.9 386.8 319.2 386.6 318.6 386.4C318.0 386.2 317.4 386.1 316.7 385.8C316.1 385.6 315.5 385.4 314.9 385.2C314.3 384.9 313.7 384.7 313.1 384.4C312.5 384.1 311.9 383.8 311.4 383.5C310.8 383.2 310.2 382.9 309.6 382.6C309.1 382.3 308.5 381.9 308.0 381.6C307.4 381.2 306.9 380.8 306.4 380.4C305.9 380.0 305.3 379.6 304.8 379.2C304.3 378.8 303.8 378.4 303.4 377.9C302.9 377.5 302.4 377.0 301.9 376.6C301.5 376.1 301.0 375.6 300.6 375.1C300.2 374.7 299.8 374.2 299.4 373.6C298.9 373.1 298.6 372.6 298.2 372.1C297.8 371.6 297.4 371.0 297.1 370.5C296.7 369.9 296.4 369.4 296.1 368.8C295.8 368.2 295.4 367.6 295.2 367.1C294.9 366.5 294.6 365.9 294.3 365.3C294.1 364.7 293.8 364.1 293.6 363.5C293.4 362.9 293.1 362.2 292.9 361.6C292.8 361.0 292.6 360.4 292.4 359.7C292.2 359.1 292.1 358.5 292.0 357.8C291.8 357.2 291.7 356.5 291.6 355.9C291.5 355.3 291.4 354.6 291.4 354.0C291.3 353.3 291.3 352.7 291.2 352.0C291.2 351.4 291.2 350.7 291.2 350.0C291.2 349.4 291.2 348.7 291.3 348.1C291.3 347.4 291.4 346.8 291.4 346.1C291.5 345.5 291.6 344.8 291.7 344.2C291.8 343.6 291.9 342.9 292.1 342.3C292.2 341.6 292.4 341.0 292.5 340.4C292.7 339.7 292.9 339.1 293.1 338.5C293.3 337.9 293.5 337.3 293.8 336.7C294.0 336.1 294.3 335.5 294.5 334.9C294.8 334.3 295.1 333.7 295.4 333.1C295.7 332.5 296.0 331.9 296.3 331.4C296.7 330.8 297.0 330.3 297.4 329.7C297.7 329.2 298.1 328.6 298.5 328.1C298.9 327.6 299.3 327.1 299.7 326.6C300.1 326.1 300.5 325.6 300.9 325.1C301.4 324.6 301.8 324.1 302.3 323.7C302.8 323.2 303.2 322.8 303.7 322.3C304.2 321.9 304.7 321.5 305.2 321.1C305.7 320.6 306.3 320.3 306.8 319.9C307.3 319.5 307.9 319.1 308.4 318.8C308.9 318.4 309.5 318.1 310.1 317.8C310.6 317.4 311.2 317.1 311.8 316.8C312.4 316.5 313.0 316.3 313.6 316.0C314.2 315.7 314.8 315.5 315.4 315.2C316.0 315.0 316.6 314.8 317.2 314.6C317.8 314.4 318.5 314.2 319.1 314.0C319.7 313.9 320.4 313.7 321.0 313.6C321.6 313.5 322.3 313.3 322.9 313.2C323.6 313.1 324.2 313.1 324.9 313.0C325.5 312.9 326.2 312.9 326.8 312.8C327.5 312.8 328.1 312.8 328.8 312.8C329.4 312.8 330.1 312.8 330.7 312.8C331.4 312.9 332.0 312.9 332.7 313.0C333.3 313.0 334.0 313.1 334.6 313.2C335.3 313.3 335.9 313.4 336.6 313.5C337.2 313.6 337.9 313.8 338.5 313.9C339.1 314.1 339.8 314.2 340.4 314.4C341.0 314.6 341.7 314.8 342.3 315.0C342.9 315.2 343.5 315.5 344.1 315.7C344.8 316.0 345.4 316.2 346.0 316.5C346.6 316.8 347.2 317.1 347.7 317.4C348.3 317.7 348.9 318.0 349.5 318.4C350.0 318.7 350.6 319.1 351.1 319.4C351.7 319.8 352.2 320.2 352.8 320.6C353.3 321.0 353.8 321.4 354.3 321.9C354.8 322.3 355.3 322.8 355.8 323.2C356.2 323.7 356.9 324.4 357.2 324.7" fill="none" stroke="#454545" stroke-width="2.0"/>
<path d="M357.2 324.7C357.4 324.9 358.0 325.7 358.4 326.2C358.9 326.7 359.3 327.2 359.7 327.7C360.1 328.2 360.4 328.8 360.8 329.3C361.2 329.8 361.6 330.4 361.9 330.9C362.3 331.5 362.6 332.1 362.9 332.6C363.3 333.2 363.6 333.8 363.9 334.4C364.2 334.9 364.5 335.5 364.8 336.1C365.0 336.7 365.3 337.4 365.6 338.0C365.8 338.6 366.0 339.2 366.2 339.8C366.5 340.5 366.7 341.1 366.8 341.8C367.0 342.4 367.2 343.1 367.3 343.7C367.4 344.4 367.6 345.0 367.7 345.7C367.8 346.4 367.8 347.0 367.9 347.7C367.9 348.4 368.0 349.0 368.0 349.7C368.0 350.4 368.0 351.0 368.0 351.7C367.9 352.4 367.9 353.1 367.8 353.7C367.7 354.4 367.6 355.1 367.5 355.7C367.4 356.4 367.3 357.0 367.1 357.7C367.0 358.3 366.8 359.0 366.6 359.6C366.4 360.3 366.2 360.9 366.0 361.5C365.7 362.1 365.5 362.8 365.2 363.4C365.0 364.0 364.7 364.6 364.4 365.2C364.1 365.8 363.8 366.4 363.5 367.0C363.2 367.5 362.9 368.1 362.5 368.7C362.2 369.2 361.8 369.8 361.5 370.3C361.1 370.9 360.7 371.4 360.3 372.0C360.0 372.5 359.6 373.0 359.2 373.5C358.8 374.0 358.4 374.6 357.9 375.1C357.5 375.5 357.1 376.0 356.6 376.5C356.2 377.0 355.7 377.4 355.2 377.9C354.7 378.3 354.3 378.8 353.7 379.2C353.2 379.6 352.7 380.0 352.2 380.4C351.7 380.8 351.1 381.2 350.6 381.5C350.1 381.9 349.5 382.2 348.9 382.5C348.4 382.9 347.8 383.2 347.2 383.5C346.6 383.8 346.1 384.1 345.5 384.3C344.9 384.6 344.0 384.9 343.7 385.1" fill="none" stroke="#454545" stroke-width="1.7" stroke-dasharray="11 2 15 2.5 9 2.5" stroke-dashoffset="-2"/>
<path d="M285.0 20.5C285.2 22.1 285.5 26.3 286.3 30.0C287.1 33.7 288.6 38.1 290.0 42.5C291.4 46.9 293.5 51.7 295.0 56.3C296.5 60.9 298.0 65.2 298.8 70.0C299.6 74.8 299.8 79.2 300.0 85.0C300.2 90.8 299.8 98.8 300.0 105.0C300.2 111.2 300.8 116.7 301.3 122.5C301.9 128.3 302.5 134.2 303.3 140.0C304.1 145.8 305.4 152.9 306.3 157.5C307.2 162.1 307.6 164.4 309.0 167.5C310.4 170.6 312.9 173.4 315.0 176.3C317.1 179.2 319.6 181.5 321.3 185.0C323.0 188.5 324.0 192.9 325.0 197.5C326.0 202.1 327.4 207.9 327.5 212.5C327.6 217.1 326.1 221.7 325.5 225.0C324.9 228.3 323.7 229.6 324.0 232.5C324.3 235.4 326.1 239.2 327.5 242.5C328.9 245.8 331.0 247.9 332.5 252.5C334.0 257.1 335.4 264.6 336.3 270.0C337.2 275.4 337.3 280.4 338.0 285.0C338.7 289.6 338.9 293.9 340.3 297.5C341.7 301.1 344.1 303.6 346.3 306.3C348.6 309.0 352.0 311.1 353.8 313.8C355.6 316.5 356.9 318.9 357.3 322.3C357.8 325.7 357.3 330.2 356.5 334.0C355.7 337.8 353.8 341.1 352.5 345.0C351.2 348.9 349.8 352.9 348.8 357.5C347.8 362.1 347.2 367.5 346.5 372.5C345.8 377.5 344.9 382.5 344.5 387.5C344.1 392.5 343.7 397.9 344.0 402.5C344.3 407.1 345.6 411.1 346.5 415.0C347.4 418.9 348.1 421.4 349.5 426.0C350.9 430.6 353.2 437.7 355.0 442.5C356.8 447.3 357.9 449.6 360.0 455.0C362.1 460.4 365.4 469.6 367.5 475.0C369.6 480.4 370.6 483.5 372.7 487.7C374.8 491.9 376.7 494.6 380.0 500.0C383.3 505.4 389.5 514.8 392.5 520.0C395.5 525.2 395.8 525.8 398.0 531.0C400.2 536.2 403.8 545.5 406.0 551.0C408.2 556.5 407.4 554.9 411.0 563.7C414.6 572.5 423.0 592.6 427.7 603.7C432.4 614.8 435.8 623.1 439.3 630.3C442.8 637.5 444.9 642.3 448.7 647.0C452.5 651.7 457.6 655.9 462.0 658.7C466.4 661.5 471.7 661.8 475.3 663.7C478.9 665.6 481.8 667.0 483.7 670.3C485.6 673.6 486.3 679.2 487.0 683.7C487.7 688.2 487.8 692.8 487.7 697.0C487.6 701.2 486.5 706.8 486.3 708.7" fill="none" stroke="#5a5a5a" stroke-width="3.4" stroke-linecap="round" stroke-linejoin="round"/>
<path d="M290.0 42.5C290.8 44.8 293.5 51.7 295.0 56.3C296.5 60.9 298.0 65.2 298.8 70.0C299.6 74.8 299.8 79.2 300.0 85.0C300.2 90.8 299.8 98.8 300.0 105.0C300.2 111.2 300.8 116.7 301.3 122.5C301.9 128.3 302.5 134.2 303.3 140.0C304.1 145.8 305.4 152.9 306.3 157.5C307.2 162.1 307.6 164.4 309.0 167.5C310.4 170.6 312.9 173.4 315.0 176.3C317.1 179.2 319.6 181.5 321.3 185.0C323.0 188.5 324.0 192.9 325.0 197.5C326.0 202.1 327.4 207.9 327.5 212.5C327.6 217.1 326.1 221.7 325.5 225.0C324.9 228.3 323.7 229.6 324.0 232.5C324.3 235.4 326.1 239.2 327.5 242.5C328.9 245.8 331.0 247.9 332.5 252.5C334.0 257.1 335.4 264.6 336.3 270.0C337.2 275.4 337.3 280.4 338.0 285.0C338.7 289.6 338.9 293.9 340.3 297.5C341.7 301.1 344.1 303.6 346.3 306.3C348.6 309.0 352.0 311.1 353.8 313.8C355.6 316.5 356.9 318.9 357.3 322.3C357.8 325.7 357.3 330.2 356.5 334.0C355.7 337.8 353.8 341.1 352.5 345.0C351.2 348.9 349.8 352.9 348.8 357.5C347.8 362.1 347.2 367.5 346.5 372.5C345.8 377.5 344.9 382.5 344.5 387.5C344.1 392.5 343.7 397.9 344.0 402.5C344.3 407.1 345.6 411.1 346.5 415.0C347.4 418.9 348.1 421.4 349.5 426.0C350.9 430.6 353.2 437.7 355.0 442.5C356.8 447.3 357.9 449.6 360.0 455.0C362.1 460.4 365.4 469.6 367.5 475.0C369.6 480.4 370.6 483.5 372.7 487.7C374.8 491.9 376.7 494.6 380.0 500.0C383.3 505.4 389.5 514.8 392.5 520.0C395.5 525.2 395.8 525.8 398.0 531.0C400.2 536.2 403.8 545.5 406.0 551.0C408.2 556.5 407.4 554.9 411.0 563.7C414.6 572.5 423.0 592.6 427.7 603.7C432.4 614.8 435.8 623.1 439.3 630.3C442.8 637.5 444.9 642.3 448.7 647.0C452.5 651.7 457.6 655.9 462.0 658.7C466.4 661.5 471.7 661.8 475.3 663.7C478.9 665.6 481.8 667.0 483.7 670.3C485.6 673.6 486.3 679.2 487.0 683.7C487.7 688.2 487.8 692.8 487.7 697.0C487.6 701.2 486.5 706.8 486.3 708.7" fill="none" stroke="#5a5a5a" stroke-width="4.2" stroke-linecap="round" stroke-linejoin="round"/>
<path d="M298.8 70.0C299.0 72.5 299.8 79.2 300.0 85.0C300.2 90.8 299.8 98.8 300.0 105.0C300.2 111.2 300.8 116.7 301.3 122.5C301.9 128.3 302.5 134.2 303.3 140.0C304.1 145.8 305.4 152.9 306.3 157.5C307.2 162.1 307.6 164.4 309.0 167.5C310.4 170.6 312.9 173.4 315.0 176.3C317.1 179.2 319.6 181.5 321.3 185.0C323.0 188.5 324.0 192.9 325.0 197.5C326.0 202.1 327.4 207.9 327.5 212.5C327.6 217.1 326.1 221.7 325.5 225.0C324.9 228.3 323.7 229.6 324.0 232.5C324.3 235.4 326.1 239.2 327.5 242.5C328.9 245.8 331.0 247.9 332.5 252.5C334.0 257.1 335.4 264.6 336.3 270.0C337.2 275.4 337.3 280.4 338.0 285.0C338.7 289.6 338.9 293.9 340.3 297.5C341.7 301.1 344.1 303.6 346.3 306.3C348.6 309.0 352.0 311.1 353.8 313.8C355.6 316.5 356.9 318.9 357.3 322.3C357.8 325.7 357.3 330.2 356.5 334.0C355.7 337.8 353.8 341.1 352.5 345.0C351.2 348.9 349.8 352.9 348.8 357.5C347.8 362.1 347.2 367.5 346.5 372.5C345.8 377.5 344.9 382.5 344.5 387.5C344.1 392.5 343.7 397.9 344.0 402.5C344.3 407.1 345.6 411.1 346.5 415.0C347.4 418.9 348.1 421.4 349.5 426.0C350.9 430.6 353.2 437.7 355.0 442.5C356.8 447.3 357.9 449.6 360.0 455.0C362.1 460.4 365.4 469.6 367.5 475.0C369.6 480.4 370.6 483.5 372.7 487.7C374.8 491.9 376.7 494.6 380.0 500.0C383.3 505.4 389.5 514.8 392.5 520.0C395.5 525.2 395.8 525.8 398.0 531.0C400.2 536.2 403.8 545.5 406.0 551.0C408.2 556.5 407.4 554.9 411.0 563.7C414.6 572.5 423.0 592.6 427.7 603.7C432.4 614.8 435.8 623.1 439.3 630.3C442.8 637.5 444.9 642.3 448.7 647.0C452.5 651.7 457.6 655.9 462.0 658.7C466.4 661.5 471.7 661.8 475.3 663.7C478.9 665.6 481.8 667.0 483.7 670.3C485.6 673.6 486.3 679.2 487.0 683.7C487.7 688.2 487.8 692.8 487.7 697.0C487.6 701.2 486.5 706.8 486.3 708.7" fill="none" stroke="#5a5a5a" stroke-width="5.1" stroke-linecap="round" stroke-linejoin="round"/>
<text font-size="26" font-weight="400" font-style="normal" fill="#4e4e4e" stroke="#4e4e4e" stroke-width="1.0" stroke-linejoin="round"><textPath href="#p1" startOffset="28.3" textLength="109.2" lengthAdjust="spacing">SINGLE</textPath></text>
<text font-size="25" font-weight="400" font-style="normal" fill="#4e4e4e" stroke="#4e4e4e" stroke-width="1.0" stroke-linejoin="round"><textPath href="#p2" startOffset="28.1" textLength="83.3" lengthAdjust="spacing">FAMILY</textPath></text>
<text font-size="23.5" font-weight="400" font-style="normal" fill="#4e4e4e" stroke="#4e4e4e" stroke-width="1.0" stroke-linejoin="round"><textPath href="#p3" startOffset="28.0" textLength="136.1" lengthAdjust="spacing">DWELLINGS</textPath></text>
<text font-size="17.5" font-weight="700" font-style="normal" fill="#4e4e4e" stroke="#4e4e4e" stroke-width="0.6" stroke-linejoin="round"><textPath href="#p4" startOffset="24.5" textLength="121.8" lengthAdjust="spacingAndGlyphs">RESIDENTIAL</textPath></text>
<text font-size="17.5" font-weight="700" font-style="normal" fill="#4e4e4e" stroke="#4e4e4e" stroke-width="0.7" stroke-linejoin="round"><textPath href="#p5" startOffset="24.2" textLength="59.3" lengthAdjust="spacingAndGlyphs">HOTELS</textPath></text>
<text font-size="22" font-weight="700" font-style="normal" fill="#4e4e4e" stroke="#4e4e4e" stroke-width="0.7" stroke-linejoin="round"><textPath href="#p6" startOffset="20.1" textLength="77.3" lengthAdjust="spacingAndGlyphs">BRIGHT</textPath></text>
<text font-size="26" font-weight="700" font-style="normal" fill="#4e4e4e" stroke="#4e4e4e" stroke-width="0.9" stroke-linejoin="round"><textPath href="#p7" startOffset="20.0" textLength="43.6" lengthAdjust="spacingAndGlyphs">LIGHT</textPath></text>
<text font-size="26" font-weight="700" font-style="normal" fill="#4e4e4e" stroke="#4e4e4e" stroke-width="0.9" stroke-linejoin="round"><textPath href="#p8" startOffset="19.9" textLength="41.2" lengthAdjust="spacingAndGlyphs">AREA</textPath></text>
<text font-size="27" font-weight="400" font-style="normal" fill="#4e4e4e" stroke="#4e4e4e" stroke-width="0.9" stroke-linejoin="round"><textPath href="#p9" startOffset="20.4" textLength="120.5" lengthAdjust="spacing">HOUSES</textPath></text>
<text font-size="27" font-weight="400" font-style="normal" fill="#4e4e4e" stroke="#4e4e4e" stroke-width="1.1" stroke-linejoin="round"><textPath href="#p10" startOffset="20.3" textLength="193.4" lengthAdjust="spacing">APARTMENT</textPath></text>
<text font-size="12.5" font-weight="400" font-style="normal" fill="#4e4e4e" stroke="#4e4e4e" stroke-width="0.7" stroke-linejoin="round"><textPath href="#p11" startOffset="18.5" textLength="64.5" lengthAdjust="spacingAndGlyphs">SECOND</textPath></text>
<text font-size="12.5" font-weight="400" font-style="normal" fill="#4e4e4e" stroke="#4e4e4e" stroke-width="0.7" stroke-linejoin="round"><textPath href="#p12" startOffset="18.4" textLength="82.1" lengthAdjust="spacingAndGlyphs">IMMIGRANT</textPath></text>
<text font-size="12.5" font-weight="400" font-style="normal" fill="#4e4e4e" stroke="#4e4e4e" stroke-width="0.7" stroke-linejoin="round"><textPath href="#p13" startOffset="16.8" textLength="111.3" lengthAdjust="spacingAndGlyphs">SETTLEMENT</textPath></text>
<text font-size="14.5" font-weight="400" font-style="normal" fill="#4e4e4e" stroke="#4e4e4e" stroke-width="0.7" stroke-linejoin="round"><textPath href="#p14" startOffset="9.5" textLength="51.9" lengthAdjust="spacingAndGlyphs">LITTLE</textPath></text>
<text font-size="13.5" font-weight="400" font-style="normal" fill="#4e4e4e" stroke="#4e4e4e" stroke-width="0.7" stroke-linejoin="round"><textPath href="#p15" startOffset="8.1" textLength="41.8" lengthAdjust="spacingAndGlyphs">SICILY</textPath></text>
<text x="294.3 295.4 296.4 297.4 298.5" y="269.3 278.3 287.3 296.3 305.3" rotate="0" font-size="10" font-weight="700" text-anchor="middle" fill="#4e4e4e" stroke="#4e4e4e" stroke-width="0.4" stroke-linejoin="round">UNDER</text>
<text x="303.5 304.4 305.4 306.4 307.3" y="265.4 275.0 284.6 294.2 303.8" rotate="0" font-size="10.5" font-weight="700" text-anchor="middle" fill="#4e4e4e" stroke="#4e4e4e" stroke-width="0.4" stroke-linejoin="round">WORLD</text>
<text x="319.2 320.0 320.9 321.7 322.5 323.4 324.2" y="261.6 269.8 277.9 286.1 294.3 302.4 310.6" rotate="0" font-size="9.5" font-weight="700" text-anchor="middle" fill="#4e4e4e" stroke="#4e4e4e" stroke-width="0.3" stroke-linejoin="round">ROOMERS</text>
<text x="327.5" y="310.5" font-size="10" font-weight="700" font-style="normal" text-anchor="start" fill="#4e4e4e">,</text>
<text aria-label="SLUM" font-weight="400" fill="#4e4e4e" stroke="#4e4e4e" stroke-width="1.5" stroke-linejoin="round"><tspan x="325.0" y="392.7" rotate="200" font-size="34">S</tspan><tspan x="304.5" y="385.6" rotate="227" font-size="30">L</tspan><tspan x="283.4" y="358.8" rotate="274" font-size="27.5">U</tspan><tspan x="288.0" y="337.5" rotate="304" font-size="27">M</tspan></text>
<text x="239.8" y="375.0" font-size="16.5" font-weight="700" font-style="normal" text-anchor="start" fill="#4e4e4e" textLength="49.0" lengthAdjust="spacingAndGlyphs" stroke="#4e4e4e" stroke-width="0.3" stroke-linejoin="round">GHETTO</text>
<text x="263.5" y="410.0" font-size="8.5" font-weight="700" font-style="italic" text-anchor="start" fill="#4e4e4e" textLength="28.0" lengthAdjust="spacingAndGlyphs">CHINA</text>
<text x="267.0" y="417.5" font-size="8.5" font-weight="700" font-style="italic" text-anchor="start" fill="#4e4e4e" textLength="21.5" lengthAdjust="spacingAndGlyphs">TOWN</text>
<path d="M289 415.5H297M294.5 413L297.5 415.5L294.5 418" fill="none" stroke="#4e4e4e" stroke-width="1" stroke-linecap="butt" stroke-linejoin="round"/>
<text aria-label="VICE" font-weight="400" fill="#4e4e4e" stroke="#4e4e4e" stroke-width="1.2" stroke-linejoin="round"><tspan x="283.3" y="428.1" rotate="40" font-size="29">V</tspan><tspan x="295.9" y="435.3" rotate="58" font-size="14">I</tspan><tspan x="325.9" y="424.2" rotate="120" font-size="20">C</tspan><tspan x="318.1" y="446.9" rotate="61" font-size="26">E</tspan></text>
<path d="M304.8 439.6C299 442 299 448 304.8 450.2M319.6 415.8L326 412.7M319.6 421.6L328 416.9" fill="none" stroke="#4e4e4e" stroke-width="2.4" stroke-linecap="round" stroke-linejoin="round"/>
<path d="M305.2 412.3L319.7 412.3L319.5 480L318.6 549.8L304.2 549.8Z" fill="#555" stroke="#555" stroke-width="0.5" stroke-linecap="butt" stroke-linejoin="round"/>
<text x="314.2" y="542.3" font-size="11" font-weight="400" font-style="italic" text-anchor="start" fill="#fff" transform="rotate(-87.50 314.2 542.3)" textLength="43.0" lengthAdjust="spacing" stroke="#fff" stroke-width="0.2" stroke-linejoin="round">BLACK</text>
<text x="315.2" y="487.8" font-size="11" font-weight="400" font-style="italic" text-anchor="start" fill="#fff" transform="rotate(-87.50 315.2 487.8)" textLength="37.5" lengthAdjust="spacing" stroke="#fff" stroke-width="0.2" stroke-linejoin="round">BELT</text>
<text x="331.2" y="332.2" font-size="20.5" font-weight="700" font-style="normal" text-anchor="middle" fill="#4e4e4e" font-family="'Liberation Serif',serif" stroke="#4e4e4e" stroke-width="0.7" stroke-linejoin="round">I</text>
<text x="298.5" y="351.3" font-size="21" font-weight="400" font-style="italic" text-anchor="start" fill="#4e4e4e" textLength="51.0" lengthAdjust="spacingAndGlyphs" stroke="#4e4e4e" stroke-width="0.8" stroke-linejoin="round">LOOP</text>
<text x="385.0" y="309.6" font-size="17" font-weight="700" font-style="normal" text-anchor="middle" fill="#4e4e4e" textLength="10.0" lengthAdjust="spacingAndGlyphs" font-family="'Liberation Serif',serif" stroke="#4e4e4e" stroke-width="1.0" stroke-linejoin="round">II</text>
<path d="M379 298.7H391M379 309.5H391" fill="none" stroke="#4e4e4e" stroke-width="2.7" stroke-linecap="butt" stroke-linejoin="round"/>
<text x="368.8" y="331.2" font-size="22" font-weight="700" font-style="normal" text-anchor="start" fill="#4e4e4e" textLength="46.8" lengthAdjust="spacingAndGlyphs" stroke="#4e4e4e" stroke-width="0.4" stroke-linejoin="round">ZONE</text>
<text x="386.2" y="349.3" font-size="18.5" font-weight="700" font-style="normal" text-anchor="start" fill="#4e4e4e" textLength="17.2" lengthAdjust="spacingAndGlyphs" stroke="#4e4e4e" stroke-width="0.4" stroke-linejoin="round">IN</text>
<text x="369.3" y="372.6" font-size="20" font-weight="700" font-style="normal" text-anchor="start" fill="#4e4e4e" textLength="61.5" lengthAdjust="spacingAndGlyphs" stroke="#4e4e4e" stroke-width="0.5" stroke-linejoin="round">TRANSITION</text>
<text x="457.2" y="299.4" font-size="18" font-weight="700" font-style="normal" text-anchor="middle" fill="#4e4e4e" textLength="13.0" lengthAdjust="spacingAndGlyphs" font-family="'Liberation Serif',serif" stroke="#4e4e4e" stroke-width="0.9" stroke-linejoin="round">III</text>
<path d="M449.8 286.5H464.8M449.8 299.3H463.5" fill="none" stroke="#4e4e4e" stroke-width="2.6" stroke-linecap="butt" stroke-linejoin="round"/>
<text x="436.5" y="319.9" font-size="18" font-weight="400" font-style="normal" text-anchor="start" fill="#4e4e4e" transform="rotate(-3.34 436.5 319.9)" textLength="42.9" lengthAdjust="spacingAndGlyphs" stroke="#4e4e4e" stroke-width="0.8" stroke-linejoin="round">ZONE</text>
<text x="488.7" y="316.5" font-size="18" font-weight="400" font-style="normal" text-anchor="start" fill="#4e4e4e" transform="rotate(-4.63 488.7 316.5)" textLength="21.1" lengthAdjust="spacingAndGlyphs" stroke="#4e4e4e" stroke-width="0.8" stroke-linejoin="round">OF</text>
<text x="434.3" y="335.0" font-size="14.5" font-weight="700" font-style="normal" text-anchor="start" fill="#4e4e4e" transform="rotate(-4.39 434.3 335.0)" textLength="84.9" lengthAdjust="spacingAndGlyphs" stroke="#4e4e4e" stroke-width="0.4" stroke-linejoin="round">WORKINGMEN&#8217;S</text>
<text x="456.0" y="349.5" font-size="16.3" font-weight="400" font-style="normal" text-anchor="start" fill="#4e4e4e" transform="rotate(-2.55 456.0 349.5)" textLength="47.2" lengthAdjust="spacingAndGlyphs" stroke="#4e4e4e" stroke-width="0.9" stroke-linejoin="round">HOMES</text>
<text x="549.8" y="377.2" font-size="22" font-weight="400" font-style="normal" text-anchor="start" fill="#4e4e4e" textLength="17.5" lengthAdjust="spacingAndGlyphs" stroke="#4e4e4e" stroke-width="0.7" stroke-linejoin="round">IV</text>
<path d="M546.4 360H567.5M545.6 377.6H563.6" fill="none" stroke="#4e4e4e" stroke-width="2.1" stroke-linecap="butt" stroke-linejoin="round"/>
<text x="522.0" y="400.6" font-size="16.5" font-weight="400" font-style="normal" text-anchor="start" fill="#4e4e4e" transform="rotate(-2.47 522.0 400.6)" textLength="90.4" lengthAdjust="spacingAndGlyphs" stroke="#4e4e4e" stroke-width="0.8" stroke-linejoin="round">RESIDENTIAL</text>
<text x="543.2" y="415.2" font-size="16" font-weight="400" font-style="normal" text-anchor="start" fill="#4e4e4e" transform="rotate(-2.39 543.2 415.2)" textLength="40.8" lengthAdjust="spacingAndGlyphs" stroke="#4e4e4e" stroke-width="0.8" stroke-linejoin="round">ZONE</text>
<text x="593.3" y="526.8" font-size="21" font-weight="700" font-style="normal" text-anchor="middle" fill="#4e4e4e" textLength="11.5" lengthAdjust="spacingAndGlyphs" stroke="#4e4e4e" stroke-width="0.6" stroke-linejoin="round">V</text>
<path d="M586.2 512H601.4M589 527.3H597" fill="none" stroke="#4e4e4e" stroke-width="2.4" stroke-linecap="butt" stroke-linejoin="round"/>
<text x="563.7" y="548.5" font-size="14" font-weight="700" font-style="normal" text-anchor="start" fill="#4e4e4e" transform="rotate(-5.19 563.7 548.5)" textLength="80.7" lengthAdjust="spacingAndGlyphs" stroke="#4e4e4e" stroke-width="0.3" stroke-linejoin="round">COMMUTERS</text>
<text x="578.9" y="560.8" font-size="14" font-weight="700" font-style="normal" text-anchor="start" fill="#4e4e4e" transform="rotate(-7.04 578.9 560.8)" textLength="41.6" lengthAdjust="spacingAndGlyphs" stroke="#4e4e4e" stroke-width="0.3" stroke-linejoin="round">ZONE</text>
<text x="146.0" y="381.6" font-size="15" font-weight="400" font-style="normal" text-anchor="start" fill="#4e4e4e" transform="rotate(-3.46 146.0 381.6)" textLength="81.1" lengthAdjust="spacingAndGlyphs" stroke="#4e4e4e" stroke-width="0.9" stroke-linejoin="round">DEUTSCHLAND</text>
<text x="176.5" y="448.5" font-size="13" font-weight="700" font-style="normal" text-anchor="start" fill="#4e4e4e" transform="rotate(-1.83 176.5 448.5)" textLength="75.0" lengthAdjust="spacingAndGlyphs" stroke="#4e4e4e" stroke-width="0.3" stroke-linejoin="round">&#8216;TWO FLAT&#8217;</text>
<text x="197.1" y="458.5" font-size="13" font-weight="700" font-style="normal" text-anchor="start" fill="#4e4e4e" textLength="32.6" lengthAdjust="spacingAndGlyphs" stroke="#4e4e4e" stroke-width="0.3" stroke-linejoin="round">AREA</text>
<text x="273.8" y="561.2" font-size="15.5" font-weight="700" font-style="normal" text-anchor="start" fill="#4e4e4e" textLength="90.0" lengthAdjust="spacingAndGlyphs" stroke="#4e4e4e" stroke-width="0.35" stroke-linejoin="round">BRIGHT LIGHT</text>
<text x="288.8" y="574.3" font-size="15.5" font-weight="400" font-style="normal" text-anchor="start" fill="#4e4e4e" textLength="43.5" lengthAdjust="spacing" stroke="#4e4e4e" stroke-width="1.1" stroke-linejoin="round">AREA</text>
<text x="296.0" y="615.2" font-size="16.2" font-weight="400" font-style="normal" text-anchor="start" fill="#4e4e4e" transform="rotate(-3.35 296.0 615.2)" textLength="78.6" lengthAdjust="spacingAndGlyphs" stroke="#4e4e4e" stroke-width="0.8" stroke-linejoin="round">RESTRICTED</text>
<text x="265.3" y="623.2" font-size="13.3" font-weight="400" font-style="normal" text-anchor="start" fill="#4e4e4e" transform="rotate(2.23 265.3 623.2)" textLength="79.8" lengthAdjust="spacingAndGlyphs" stroke="#4e4e4e" stroke-width="0.8" stroke-linejoin="round">RESIDENTIAL</text>
<text x="354.0" y="624.6" font-size="13.3" font-weight="400" font-style="normal" text-anchor="start" fill="#4e4e4e" transform="rotate(-13.85 354.0 624.6)" textLength="51.8" lengthAdjust="spacingAndGlyphs" stroke="#4e4e4e" stroke-width="0.8" stroke-linejoin="round">DISTRICT</text>
<text x="354.0" y="660.3" font-size="13.5" font-weight="400" font-style="normal" text-anchor="start" fill="#4e4e4e" transform="rotate(-11.02 354.0 660.3)" textLength="70.1" lengthAdjust="spacingAndGlyphs" stroke="#4e4e4e" stroke-width="0.8" stroke-linejoin="round">BUNGALOW</text>
<text x="368.0" y="669.0" font-size="13.5" font-weight="400" font-style="normal" text-anchor="start" fill="#4e4e4e" transform="rotate(-11.95 368.0 669.0)" textLength="56.0" lengthAdjust="spacingAndGlyphs" stroke="#4e4e4e" stroke-width="0.8" stroke-linejoin="round">SECTION</text>
<text x="375.5" y="521.5" font-size="11.5" font-weight="700" font-style="italic" text-anchor="start" fill="#4e4e4e" transform="rotate(64.50 375.5 521.5)" textLength="74.0" lengthAdjust="spacingAndGlyphs" stroke="#4e4e4e" stroke-width="0.3" stroke-linejoin="round">RESIDENTIAL</text>
<text x="408.0" y="594.5" font-size="11.5" font-weight="700" font-style="italic" text-anchor="start" fill="#4e4e4e" transform="rotate(59.50 408.0 594.5)" textLength="39.0" lengthAdjust="spacingAndGlyphs" stroke="#4e4e4e" stroke-width="0.4" stroke-linejoin="round">HOTELS</text>
</svg>
</body></html>
